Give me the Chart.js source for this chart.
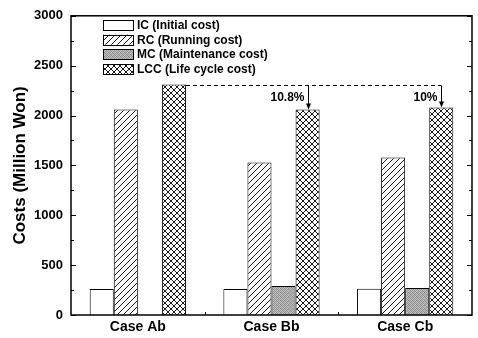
<!DOCTYPE html>
<html>
<head>
<meta charset="utf-8">
<script src="https://cdn.jsdelivr.net/npm/chart.js@4/dist/chart.umd.min.js"></script>
<style>
  html, body { margin: 0; padding: 0; background: #fff; }
  #wrap { width: 478px; height: 338px; }
</style>
</head>
<body>
<div id="wrap"><canvas id="c" width="478" height="338"></canvas></div>
<script>
// Cost breakdown per case (million won)
const categories = ['Case Ab', 'Case Bb', 'Case Cb'];
const seriesNames = ['IC (Initial cost)', 'RC (Running cost)', 'MC (Maintenance cost)', 'LCC (Life cycle cost)'];
const initialCost = [260, 260, 262];
const runningCost = [2060, 1530, 1580];
const maintenanceCost = [0, 290, 270];
const lifeCycleCost = [2310, 2060, 2080];
const reductionLabels = ['', '10.8%', '10%'];
const yTicks = [0, 500, 1000, 1500, 2000, 2500, 3000];

const FONT = 'Arial, "Liberation Sans", Helvetica, sans-serif';

// Fill patterns
function tile(size, draw) {
  const c = document.createElement('canvas');
  c.width = size; c.height = size;
  const g = c.getContext('2d');
  g.fillStyle = '#fff';
  g.fillRect(0, 0, size, size);
  draw(g, size);
  return document.getElementById('c').getContext('2d').createPattern(c, 'repeat');
}
const hatch = tile(6, (g, s) => {
  g.strokeStyle = '#000'; g.lineWidth = 0.9;
  g.beginPath();
  g.moveTo(-1, s + 1); g.lineTo(s + 1, -1);
  g.moveTo(-2, 2); g.lineTo(2, -2);
  g.moveTo(s - 2, s + 2); g.lineTo(s + 2, s - 2);
  g.stroke();
});
const cross = tile(6, (g, s) => {
  g.strokeStyle = '#000'; g.lineWidth = 0.9;
  g.beginPath();
  g.moveTo(-1, s + 1); g.lineTo(s + 1, -1);
  g.moveTo(-2, 2); g.lineTo(2, -2);
  g.moveTo(s - 2, s + 2); g.lineTo(s + 2, s - 2);
  g.moveTo(-1, -1); g.lineTo(s + 1, s + 1);
  g.moveTo(-2, s - 2); g.lineTo(2, s + 2);
  g.moveTo(s - 2, -2); g.lineTo(s + 2, 2);
  g.stroke();
});
const stipple = tile(4, (g) => {
  const shades = ['#8a8a8a', '#b5b5b5', '#a0a0a0', '#c4c4c4',
                  '#b0b0b0', '#909090', '#bcbcbc', '#999999',
                  '#a5a5a5', '#c0c0c0', '#8e8e8e', '#b8b8b8',
                  '#bdbdbd', '#9c9c9c', '#b2b2b2', '#949494'];
  for (let i = 0; i < 16; i++) {
    g.fillStyle = shades[i];
    g.fillRect(i % 4, Math.floor(i / 4), 1, 1);
  }
});
const fills = ['#ffffff', hatch, stipple, cross];

const seriesValues = [initialCost, runningCost, maintenanceCost, lifeCycleCost];

// Frame, inward ticks, legend and reduction markers
const decorations = {
  id: 'decorations',
  afterDraw(chart) {
    const ctx = chart.ctx;
    const a = chart.chartArea;
    const ys = chart.scales.y;
    const xs = chart.scales.x;
    ctx.save();
    ctx.strokeStyle = '#000';
    ctx.lineWidth = 1.5;
    ctx.strokeRect(a.left, a.top, a.right - a.left, a.bottom - a.top);

    ctx.lineWidth = 1;
    ctx.beginPath();
    for (let v = 0; v <= 3000; v += 250) {
      const y = Math.round(ys.getPixelForValue(v)) + 0.5;
      const len = v % 500 === 0 ? 5 : 3;
      ctx.moveTo(a.left, y); ctx.lineTo(a.left + len, y);
      ctx.moveTo(a.right, y); ctx.lineTo(a.right - len, y);
    }
    for (let i = 0; i < categories.length - 1; i++) {
      const x = Math.round((xs.getPixelForValue(i) + xs.getPixelForValue(i + 1)) / 2) + 0.5;
      ctx.moveTo(x, a.bottom); ctx.lineTo(x, a.bottom - 3);
    }
    ctx.stroke();

    // legend
    const lx = a.left + 32, bw = 30, bh = 10;
    ctx.font = 'bold 12px ' + FONT;
    ctx.textBaseline = 'middle';
    ctx.textAlign = 'left';
    seriesNames.forEach((name, i) => {
      const cy = 25 + i * 14.7;
      ctx.fillStyle = fills[i];
      ctx.fillRect(lx, cy - bh / 2, bw, bh);
      ctx.strokeStyle = '#000';
      ctx.lineWidth = 1;
      ctx.strokeRect(lx + 0.5, Math.round(cy - bh / 2) + 0.5, bw, bh);
      ctx.fillStyle = '#000';
      ctx.fillText(name, lx + bw + 4, cy + 0.5);
    });

    // reduction markers on the LCC bars
    const meta = chart.getDatasetMeta(3);
    const base = meta.data[0];
    const refY = Math.round(ys.getPixelForValue(lifeCycleCost[0])) + 0.5;
    const lastX = meta.data[meta.data.length - 1].x;
    ctx.setLineDash([4, 3]);
    ctx.beginPath();
    ctx.moveTo(base.x + base.width / 2, refY);
    ctx.lineTo(lastX, refY);
    ctx.stroke();
    ctx.setLineDash([]);
    for (let i = 1; i < meta.data.length; i++) {
      const bar = meta.data[i];
      const x = Math.round(bar.x) + 0.5;
      const yTop = ys.getPixelForValue(lifeCycleCost[i]);
      ctx.beginPath();
      ctx.moveTo(x, refY);
      ctx.lineTo(x, yTop - 5);
      ctx.stroke();
      ctx.beginPath();
      ctx.moveTo(x - 2.5, yTop - 6);
      ctx.lineTo(x + 2.5, yTop - 6);
      ctx.lineTo(x, yTop);
      ctx.closePath();
      ctx.fillStyle = '#000';
      ctx.fill();
      ctx.font = 'bold 12px ' + FONT;
      ctx.textAlign = 'right';
      ctx.textBaseline = 'middle';
      ctx.fillText(reductionLabels[i], x - 4, refY + 12);
    }
    ctx.restore();
  }
};

new Chart(document.getElementById('c'), {
  type: 'bar',
  data: {
    labels: categories,
    datasets: seriesNames.map((name, i) => ({
      label: name,
      data: seriesValues[i],
      backgroundColor: fills[i],
      borderColor: '#000',
      borderWidth: 1,
      borderSkipped: 'start'
    }))
  },
  options: {
    responsive: false,
    animation: false,
    devicePixelRatio: 1,
    layout: { padding: { left: 10, right: 6, top: 14, bottom: 0 } },
    plugins: { legend: { display: false }, tooltip: { enabled: false } },
    datasets: { bar: { categoryPercentage: 0.72, barPercentage: 1.0 } },
    scales: {
      x: {
        grid: { display: false, drawTicks: false },
        border: { display: false },
        ticks: { color: '#000', font: { family: FONT, size: 14, weight: 'bold' }, padding: 4 },
        afterFit(s) { s.height = 23; }
      },
      y: {
        min: 0, max: 3000,
        afterBuildTicks(s) { s.ticks = yTicks.map(v => ({ value: v })); },
        grid: { display: false, drawTicks: false },
        border: { display: false },
        ticks: {
          color: '#000', font: { family: FONT, size: 13, weight: 'bold' }, padding: 8,
          callback: (v) => String(v)
        },
        title: { display: true, text: 'Costs (Million Won)', color: '#000', font: { family: FONT, size: 17, weight: 'bold' }, padding: 0 },
        afterFit(s) { s.width = 61; }
      }
    }
  },
  plugins: [decorations]
});
</script>
</body>
</html>
